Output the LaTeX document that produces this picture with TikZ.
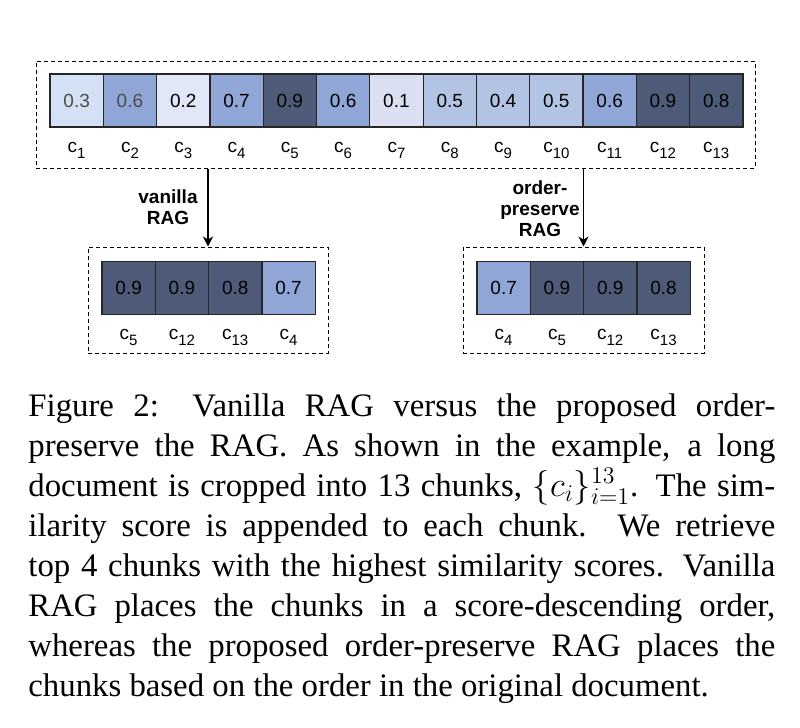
\documentclass[tikz,border=0pt]{standalone}
\usepackage{fontspec}
\setmainfont{Liberation Serif}
\newfontfamily\diafont{Liberation Sans}
\usepackage{tikz}
\usetikzlibrary{arrows.meta,positioning}

\definecolor{sc1}{HTML}{DAE0F2}
\definecolor{sc2}{HTML}{E1E7F6}
\definecolor{sc3}{HTML}{D4E1F5}
\definecolor{sc45}{HTML}{B3C3E4}
\definecolor{sc67}{HTML}{8FA6D6}
\definecolor{sc89}{HTML}{4D5B78}

\newcommand{\chunk}[1]{c\raisebox{-0.6ex}{\fontsize{7.5pt}{8pt}\selectfont #1}}

\begin{document}
\begin{tikzpicture}[
    x=0.5pt, y=-0.5pt,
    cell/.style={rectangle, draw=black!85, line width=0.6pt, outer sep=0pt, inner sep=0pt, minimum width=26.65pt, minimum height=26.5pt, font=\diafont\fontsize{9.5pt}{10pt}\selectfont},
    lbl/.style={inner sep=0pt, font=\diafont\fontsize{9.5pt}{10pt}\selectfont},
    dashbox/.style={rectangle, draw, dash pattern=on 2pt off 1.5pt, line width=0.5pt, inner sep=0pt},
    tag/.style={align=center, inner sep=0pt, font=\diafont\bfseries\fontsize{9.5pt}{10.5pt}\selectfont},
    caption/.style={anchor=north west, text width=373.5pt, align=justify, inner sep=0pt, font=\fontsize{16.4pt}{20pt}\selectfont},
    arr/.style={-{Stealth[length=5pt, width=5pt, inset=1.5pt]}, line width=0.6pt}
]
\useasboundingbox (0,0) rectangle (800,728);

% original document, 13 chunks
\node[dashbox, minimum width=359.5pt, minimum height=53.5pt] (orig) at (395.5,114.5) {};
\foreach \v/\col/\tc [count=\i] in {0.3/sc3/black!70, 0.6/sc67/black!70, 0.2/sc2/black, 0.7/sc67/black, 0.9/sc89/black, 0.6/sc67/black, 0.1/sc1/black, 0.5/sc45/black, 0.4/sc45/black, 0.5/sc45/black, 0.6/sc67/black, 0.9/sc89/black, 0.8/sc89/black} {
    \node[cell, fill=\col, text=\tc] (t\i) at ({23.35+53.3*\i},100.5) {\v};
    \node[lbl, below=11.5pt of t\i, anchor=center] (tl\i) {\chunk{\i}};
}

% vanilla RAG: score-descending
\node[dashbox, minimum width=120pt, minimum height=53pt] (vbox) at (208,300) {};
\foreach \v/\col/\c [count=\i] in {0.9/sc89/5, 0.9/sc89/12, 0.8/sc89/13, 0.7/sc67/4} {
    \node[cell, fill=\col] (v\i) at ({75.35+53.3*\i},288) {\v};
    \node[lbl, below=11.5pt of v\i, anchor=center] (vl\i) {\chunk{\c}};
}

% order-preserve RAG: original order
\node[dashbox, minimum width=120.5pt, minimum height=53pt] (obox) at (583.5,300) {};
\foreach \v/\col/\c [count=\i] in {0.7/sc67/4, 0.9/sc89/5, 0.9/sc89/12, 0.8/sc89/13} {
    \node[cell, fill=\col] (o\i) at ({450.35+53.3*\i},288) {\v};
    \node[lbl, below=11.5pt of o\i, anchor=center] (ol\i) {\chunk{\c}};
}

\node[tag] (vtag) at (168,207) {vanilla\\RAG};
\node[tag] (otag) at (540,209) {order-\\preserve\\RAG};

\draw[arr] (vbox.north |- orig.south) -- (vbox.north);
\draw[arr] (obox.north |- orig.south) -- (obox.north);

\node[caption] (cap) at (28,393) {Figure 2: Vanilla RAG versus the proposed order-\linebreak preserve the RAG. As shown in the example, a long \linebreak document is cropped into 13 chunks, $\{c_i\}_{i=1}^{13}$. The sim-\linebreak ilarity score is appended to each chunk. We retrieve \linebreak top 4 chunks with the highest similarity scores. Vanilla \linebreak RAG places the chunks in a score-descending order, \linebreak whereas the proposed order-preserve RAG places the \linebreak chunks based on the order in the original document.};

\end{tikzpicture}
\end{document}
